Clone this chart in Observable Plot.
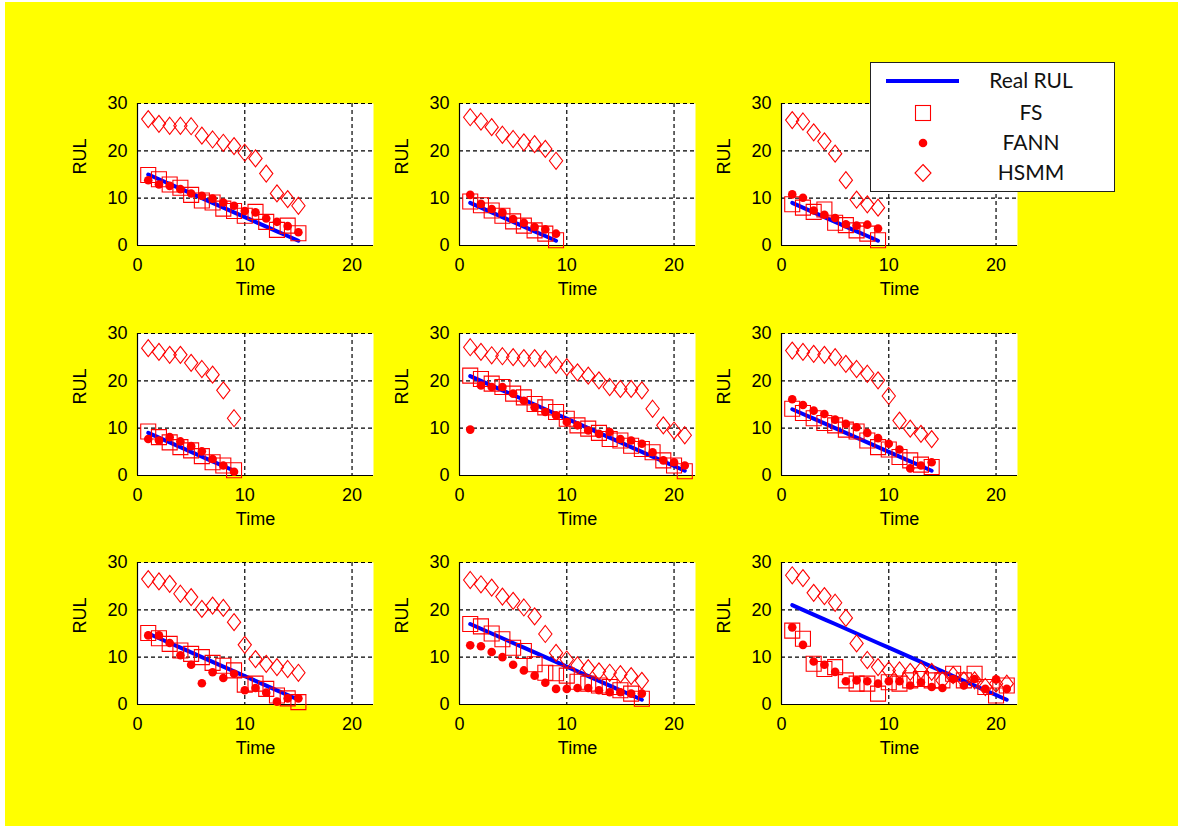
<!DOCTYPE html>
<html>
<head>
<meta charset="utf-8">
<script src="https://cdn.jsdelivr.net/npm/d3@7"></script>
<script src="https://cdn.jsdelivr.net/npm/@observablehq/plot@0.6"></script>
<style>
  html, body { margin: 0; padding: 0; background: #ffffff; }
  #page { position: relative; width: 1182px; height: 827px; overflow: hidden; background: #ffffff; }
  #bg { position: absolute; left: 5px; top: 2px; width: 1173px; height: 824px; background: #ffff00; }
  .panel { position: absolute; }
  #legend { position: absolute; left: 870px; top: 62px; width: 245px; height: 130px; background: #ffffff; border: 1px solid #222; box-sizing: border-box; }
</style>
</head>
<body>
<div id="page"><div id="bg"></div></div>
<script>
// ---- data ----
const xTicks = [0, 10, 20];
const yTicks = [0, 10, 20, 30];
const seriesNames = ["Real RUL", "FS", "FANN", "HSMM"];

const realRUL = [
  [15,14,13,12,11,10,9,8,7,6,5,4,3,2,1],
  [9,8,7,6,5,4,3,2,1],
  [9,8,7,6,5,4,3,2,1],
  [9,8,7,6,5,4,3,2,1],
  [21,20,19,18,17,16,15,14,13,12,11,10,9,8,7,6,5,4,3,2,1],
  [14,13,12,11,10,9,8,7,6,5,4,3,2,1],
  [15,14,13,12,11,10,9,8,7,6,5,4,3,2,1],
  [17,16,15,14,13,12,11,10,9,8,7,6,5,4,3,2,1],
  [21,20,19,18,17,16,15,14,13,12,11,10,9,8,7,6,5,4,3,2,1]
];
const fsRUL = [
  [14.9,14.0,12.9,12.2,10.7,9.5,9.1,7.8,7.3,6.3,7.1,5.0,3.3,4.2,2.6],
  [9.3,8.5,7.4,6.3,5.1,4.2,3.2,2.5,1.1],
  [8.7,8.0,7.1,7.6,4.8,4.3,3.2,2.5,1.1],
  [9.3,8.1,7.0,6.0,5.3,4.1,2.8,2.1,1.1],
  [21.1,20.4,19.4,18.7,17.3,16.5,15.1,14.4,13.4,12.0,10.6,9.9,9.0,7.7,7.4,6.3,5.6,4.9,3.2,2.1,0.9],
  [14.1,13.2,12.1,11.1,10.6,9.7,9.3,7.4,6.0,5.5,3.9,3.2,2.3,1.8],
  [15.1,14.0,12.8,11.4,10.7,10.0,8.8,8.2,7.2,4.2,4.4,3.3,1.9,1.3,0.5],
  [17.0,16.5,15.0,13.8,12.0,11.3,8.5,6.7,6.6,6.1,4.8,4.4,4.0,3.7,3.0,2.3,1.2],
  [15.6,13.9,8.6,7.5,7.9,5.1,4.4,4.4,2.3,4.7,4.4,5.1,5.4,5.1,5.1,6.5,5.1,6.5,3.7,1.9,4.0]
];
const fannRUL = [
  [13.8,12.9,12.6,11.9,11.0,10.5,9.9,9.1,8.4,7.3,7.0,5.7,5.0,4.1,2.8],
  [10.7,8.8,7.7,7.0,5.6,4.8,3.9,3.4,2.5],
  [10.8,10.1,7.4,6.5,5.8,4.5,4.2,4.4,3.6],
  [7.7,7.4,8.1,7.2,6.2,5.1,3.5,2.1,0.8],
  [9.7,19.0,18.7,18.7,17.3,15.8,14.4,13.4,12.7,11.3,10.6,9.5,8.8,9.2,7.7,7.4,6.7,4.9,3.2,2.8,2.1],
  [16.1,14.9,13.7,13.0,11.8,10.9,10.2,9.0,7.9,6.7,5.5,1.5,2.1,2.8],
  [14.6,14.6,13.0,10.4,8.4,4.5,6.8,5.6,6.5,3.0,3.5,2.5,0.6,1.3,1.3],
  [12.5,12.3,11.1,10.0,8.4,7.2,6.1,4.6,3.3,3.3,3.5,3.5,3.0,2.6,2.6,2.3,2.3],
  [16.3,12.6,9.1,8.4,6.9,4.9,5.1,4.9,4.4,4.9,4.9,4.0,4.7,3.7,3.5,5.4,4.0,5.4,3.3,5.3,3.3]
];
const hsmmRUL = [
  [26.7,25.7,25.3,25.3,25.2,23.2,22.4,21.7,21.0,19.6,18.4,15.2,11.0,9.8,8.4],
  [27.1,26.2,25.0,23.4,22.5,21.8,21.4,20.4,17.9],
  [26.5,26.2,23.9,22.0,19.4,13.8,9.7,8.7,8.0],
  [26.9,26.1,25.5,25.5,23.8,22.5,21.3,18.0,12.1],
  [27.1,26.1,25.4,25.2,25.0,24.8,24.8,24.6,23.4,22.9,21.8,21.1,20.1,18.7,18.3,18.3,18.0,14.1,10.6,9.5,8.5],
  [26.4,26.1,25.7,25.5,25.0,23.6,22.5,21.5,20.1,16.8,11.6,9.9,8.8,7.7],
  [26.5,26.0,25.5,23.4,22.7,20.2,20.9,20.4,17.4,12.6,9.6,8.6,7.9,7.5,6.7],
  [26.3,25.4,24.7,22.8,21.9,20.5,18.6,14.9,10.9,9.5,8.3,7.7,7.0,6.7,6.4,6.0,5.0],
  [27.3,26.7,23.6,22.9,21.5,18.3,12.9,9.4,7.9,7.2,7.2,6.9,7.2,6.9,5.1,6.2,5.1,5.1,3.7,4.4,4.4]
];

// ---- layout ----
const colX = [137, 459, 781];
const rowY = [103, 333, 562];
const PW = 236, PH = 142;
const ML = 70, MR = 12, MT = 20, MB = 70;

const squareSym = { draw(ctx, size) { const r = Math.sqrt(size / Math.PI); ctx.moveTo(-r, -r); ctx.lineTo(r, -r); ctx.lineTo(r, r); ctx.lineTo(-r, r); ctx.closePath(); } };
const diamondSym = { draw(ctx, size) { const r = Math.sqrt(size / Math.PI); const w = r * 0.78; ctx.moveTo(0, -r); ctx.lineTo(w, 0); ctx.lineTo(0, r); ctx.lineTo(-w, 0); ctx.closePath(); } };

const page = document.getElementById("page");
const font = "'Liberation Sans', Arial, sans-serif";

for (let i = 0; i < 9; i++) {
  const rows = realRUL[i].map((v, k) => ({ t: k + 1, real: v, fs: fsRUL[i][k], fann: fannRUL[i][k], hsmm: hsmmRUL[i][k] }));
  const chart = Plot.plot({
    width: ML + PW + MR,
    height: MT + PH + MB,
    marginLeft: ML, marginRight: MR, marginTop: MT, marginBottom: MB,
    style: { background: "transparent", fontFamily: font, fontSize: "18px", color: "black", overflow: "visible" },
    x: { domain: [0, 22] },
    y: { domain: [0, 30] },
    marks: [
      Plot.frame({ fill: "white", stroke: "none" }),
      Plot.gridX(xTicks.filter(d => d > 0), { stroke: "black", strokeOpacity: 1, strokeWidth: 1.2, strokeDasharray: "4,3" }),
      Plot.gridY(yTicks.filter(d => d > 0), { stroke: "black", strokeOpacity: 1, strokeWidth: 1.2, strokeDasharray: "4,3" }),
      Plot.ruleX([0], { stroke: "black", strokeWidth: 1.2 }),
      Plot.ruleY([0], { stroke: "black", strokeWidth: 1.2 }),
      Plot.axisX(xTicks, { tickSize: 0, tickPadding: 13, label: null, fontSize: 18 }),
      Plot.axisY(yTicks, { tickSize: 0, tickPadding: 10, label: null, fontSize: 18 }),
      Plot.text(["Time"], { frameAnchor: "bottom", dy: 49, fontSize: 18 }),
      Plot.text(["RUL"], { frameAnchor: "left", dx: -57, rotate: -90, fontSize: 18 }),
      Plot.line(rows, { x: "t", y: "real", stroke: "#0000ff", strokeWidth: 4 }),
      Plot.dot(rows, { x: "t", y: "fs", symbol: squareSym, r: 7.5, stroke: "#ff0000", strokeWidth: 1.1, fill: "none" }),
      Plot.dot(rows, { x: "t", y: "fann", r: 4.3, fill: "#ff0000", stroke: "none" }),
      Plot.dot(rows, { x: "t", y: "hsmm", symbol: diamondSym, r: 8.5, stroke: "#ff0000", strokeWidth: 1.1, fill: "none" })
    ]
  });
  chart.classList.add("panel");
  chart.style.left = (colX[i % 3] - ML) + "px";
  chart.style.top = (rowY[Math.floor(i / 3)] - MT) + "px";
  page.appendChild(chart);
}

// ---- legend ----
const leg = d3.select("#page").append("div").attr("id", "legend");
const svg = leg.append("svg").attr("width", 243).attr("height", 128).style("display", "block");
const rowsY = [18, 50, 80, 110];
svg.append("line").attr("x1", 15).attr("x2", 88).attr("y1", rowsY[0]).attr("y2", rowsY[0]).attr("stroke", "#0000ff").attr("stroke-width", 4);
svg.append("rect").attr("x", 52 - 7.5).attr("y", rowsY[1] - 7.5).attr("width", 15).attr("height", 15).attr("fill", "none").attr("stroke", "#ff0000").attr("stroke-width", 1.1);
svg.append("circle").attr("cx", 52).attr("cy", rowsY[2]).attr("r", 4.3).attr("fill", "#ff0000");
svg.append("path").attr("d", `M52,${rowsY[3]-8.5}L60,${rowsY[3]}L52,${rowsY[3]+8.5}L44,${rowsY[3]}Z`).attr("fill", "none").attr("stroke", "#ff0000").attr("stroke-width", 1.1);
svg.selectAll("text.lab").data(seriesNames).join("text")
  .attr("class", "lab")
  .attr("x", 160).attr("y", (d, k) => rowsY[k] + 7)
  .attr("text-anchor", "middle")
  .style("font-family", "Lato, 'Open Sans', sans-serif")
  .style("font-size", "21px")
  .attr("fill", "#111")
  .text(d => d);
</script>
</body>
</html>
